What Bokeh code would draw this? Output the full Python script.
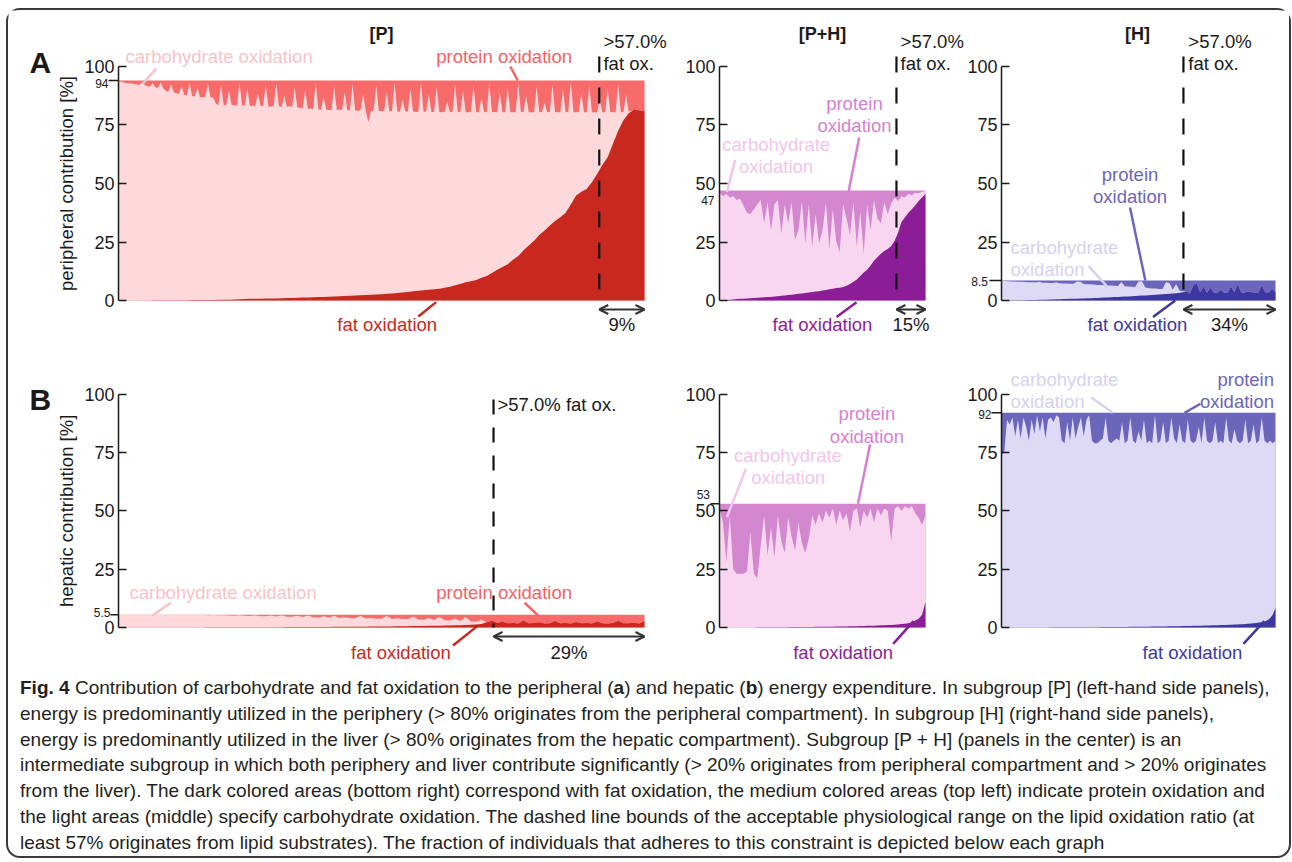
import numpy as np
from bokeh.plotting import figure
from bokeh.layouts import column, row
from bokeh.models import Range1d, FixedTicker, Label, Arrow, OpenHead, Div, ColumnDataSource
from bokeh.embed import file_html
from bokeh.resources import INLINE

FONT = "Liberation Sans"

# ---------------------------------------------------------------- data
# individuals sorted by fat oxidation; values are % contribution
y_ticks = [0, 25, 50, 75, 100]

total_pa, total_pha, total_ha = 94, 47, 8.5
total_pb, total_phb, total_hb = 5.5, 53, 92

# fraction of individuals (sorted) where fat oxidation exceeds 57 %
cut_pa, cut_pha, cut_ha, cut_pb = 0.914, 0.859, 0.664, 0.713
frac_pa, frac_pha, frac_ha, frac_pb = "9%", "15%", "34%", "29%"

pa_fat = [0.0, 0.0, 0.01, 0.02, 0.03, 0.04, 0.05, 0.06, 0.07, 0.08,
          0.1, 0.12, 0.14, 0.16, 0.18, 0.2, 0.22, 0.24, 0.26, 0.28,
          0.3, 0.35, 0.4, 0.5, 0.6, 0.7, 0.74, 0.78, 0.82, 0.86,
          0.9, 0.97, 1.04, 1.11, 1.18, 1.25, 1.32, 1.39, 1.46, 1.53,
          1.6, 1.7, 1.8, 1.9, 2.0, 2.1, 2.2, 2.35, 2.45, 2.6,
          2.7, 2.85, 3.0, 3.2, 3.4, 3.6, 4.0, 4.2, 4.4, 4.6,
          4.8, 5.0, 5.4, 5.9, 6.5, 7.1, 7.8, 8.2, 8.8, 9.7,
          10.5, 11.8, 13.1, 14.3, 15.5, 17.4, 19.0, 21.5, 23.5, 25.5,
          28.0, 29.9, 32.0, 34.0, 35.6, 37.5, 41.0, 44.9, 46.5, 47.7,
          50.5, 54.1, 58.0, 61.2, 67.0, 72.5, 77.0, 80.0, 81.5, 81.3, 81.0]
# protein read at a finer step (201 individuals)
pa_prot = [0.3, 0.5, 0.8, 1.0, 1.2, 1.3, 1.5, 1.7, 1.9, 0.6,
           2.0, 2.3, 2.6, 1.0, 2.9, 3.2, 0.8, 3.3, 4.5, 4.7,
           1.5, 5.0, 5.4, 5.8, 2.2, 6.2, 6.4, 0.9, 6.6, 6.8,
           3.0, 7.0, 7.1, 7.0, 1.2, 7.2, 7.2, 9.8, 10.6, 2.0,
           10.5, 10.7, 4.5, 10.4, 10.6, 10.8, 0.8, 10.6, 10.8, 3.5,
           10.9, 10.7, 11.0, 5.5, 10.8, 11.0, 2.0, 11.1, 11.2, 10.9,
           1.2, 11.0, 11.3, 6.5, 11.2, 11.0, 11.3, 3.0, 11.5, 11.6,
           12.0, 4.2, 12.2, 12.0, 12.3, 0.9, 12.4, 12.5, 7.0, 12.4,
           12.6, 12.5, 2.5, 12.6, 12.4, 12.7, 4.8, 12.8, 12.6, 1.5,
           12.8, 12.9, 12.7, 6.0, 12.8, 17.8, 13.0, 12.9, 2.2, 13.0,
           13.1, 12.9, 5.0, 13.2, 13.0, 1.0, 13.2, 13.3, 8.0, 13.1,
           13.3, 3.5, 13.2, 13.4, 13.3, 0.8, 13.4, 13.2, 6.0, 13.5,
           13.3, 2.8, 13.4, 13.5, 13.3, 9.0, 13.5, 13.4, 1.6, 13.6,
           13.4, 4.5, 13.5, 13.6, 13.3, 2.0, 13.5, 13.6, 7.5, 13.4,
           13.5, 0.9, 13.6, 13.4, 13.5, 5.0, 13.6, 13.5, 3.0, 13.4,
           13.6, 13.5, 1.2, 13.6, 13.4, 6.5, 13.5, 13.6, 13.5, 2.5,
           13.4, 13.6, 9.5, 13.5, 13.4, 1.8, 13.6, 13.5, 13.6, 4.0,
           13.5, 13.4, 0.7, 13.6, 13.5, 13.4, 5.5, 13.6, 13.5, 2.2,
           13.6, 13.5, 13.7, 8.0, 13.5, 13.6, 3.5, 13.4, 13.6, 13.5,
           1.5, 13.5, 13.4, 6.0, 13.2, 13.0, 12.8, 12.5, 12.6, 12.8,
           13.0]

pha_fat = [0.0, 0.1, 0.2, 0.3, 0.45, 0.6, 0.7, 0.8, 0.9, 1.0,
           1.1, 1.2, 1.3, 1.35, 1.45, 1.5, 1.7, 1.85, 2.0, 2.15,
           2.3, 2.5, 2.7, 2.85, 3.0, 3.2, 3.4, 3.6, 3.8, 4.0,
           4.3, 4.5, 4.8, 5.0, 5.3, 5.5, 5.8, 6.3, 7.0, 8.0,
           9.0, 10.5, 12.0, 13.1, 15.0, 17.0, 18.5, 20.0, 21.2, 22.0,
           23.3, 25.5, 29.0, 33.5, 35.5, 37.5, 39.0, 40.6, 42.5, 44.0, 45.5]
pha_prot = [1.0, 2.5, 1.5, 3.0, 2.5, 4.0, 3.5, 6.5, 9.5, 10.0,
            8.0, 6.0, 4.0, 14.0, 5.0, 17.0, 6.0, 4.0, 18.5, 6.0,
            14.0, 5.0, 21.0, 17.0, 4.5, 22.5, 6.0, 24.0, 10.0, 22.5,
            17.0, 5.0, 25.0, 8.0, 21.5, 26.4, 6.0, 12.0, 19.0, 5.0,
            24.0, 9.0, 27.0, 6.0, 17.0, 4.0, 12.0, 14.0, 5.0, 10.0,
            5.5, 3.0, 4.5, 2.5, 3.0, 1.5, 2.0, 1.0, 1.2, 0.5, 0.3]

ha_fat = [0.0, 0.02, 0.04, 0.06, 0.08, 0.1, 0.13, 0.16, 0.19, 0.22,
          0.25, 0.29, 0.33, 0.37, 0.41, 0.45, 0.5, 0.55, 0.6, 0.65,
          0.7, 0.75, 0.8, 0.85, 0.9, 0.95, 1.0, 1.06, 1.12, 1.18,
          1.25, 1.32, 1.39, 1.46, 1.53, 1.6, 1.68, 1.76, 1.84, 1.92,
          2.0, 2.09, 2.18, 2.27, 2.36, 2.45, 2.55, 2.65, 2.75, 2.85,
          3.0, 3.15, 3.3, 3.5, 3.9, 3.0, 6.5, 7.5, 3.5, 6.0,
          3.3, 5.5, 3.4, 3.3, 4.5, 3.4, 3.2, 6.0, 3.5, 7.0,
          3.4, 3.3, 4.0, 3.5, 3.4, 3.3, 6.5, 3.5, 3.4, 5.0, 3.6]
ha_prot = [0.1, 0.2, 0.3, 0.35, 0.4, 0.45, 0.5, 0.6, 0.7, 0.75,
           0.8, 0.5, 0.9, 0.95, 1.0, 1.05, 0.7, 1.1, 1.2, 1.2,
           1.3, 1.35, 0.4, 0.5, 1.5, 1.55, 1.6, 1.7, 1.9, 1.9,
           2.0, 2.1, 2.1, 2.2, 2.3, 0.6, 2.4, 2.5, 2.6, 2.7,
           0.4, 0.3, 2.9, 3.3, 3.4, 3.4, 3.6, 3.6, 0.7, 1.0,
           3.9, 1.5, 4.3, 4.5, 4.6, 5.5, 2.0, 1.0, 5.0, 2.5,
           5.2, 3.0, 5.1, 5.2, 4.0, 5.1, 5.3, 2.5, 5.0, 1.5,
           5.1, 5.2, 4.5, 5.0, 5.1, 5.2, 2.0, 5.0, 5.1, 3.5, 4.9]

pb_fat = [0.0, 0.0, 0.0, 0.01, 0.01, 0.01, 0.02, 0.02, 0.02, 0.03,
          0.03, 0.03, 0.04, 0.04, 0.05, 0.05, 0.05, 0.06, 0.06, 0.07,
          0.07, 0.08, 0.08, 0.09, 0.09, 0.1, 0.1, 0.11, 0.12, 0.13,
          0.14, 0.15, 0.16, 0.17, 0.18, 0.19, 0.2, 0.21, 0.22, 0.24,
          0.25, 0.27, 0.28, 0.3, 0.31, 0.33, 0.34, 0.36, 0.38, 0.39,
          0.4, 0.43, 0.46, 0.49, 0.52, 0.55, 0.59, 0.63, 0.67, 0.71,
          0.75, 0.8, 0.85, 0.9, 0.95, 1.0, 1.08, 1.17, 1.3, 1.5,
          2.2, 2.9, 2.0, 2.5, 1.8, 1.9, 1.7, 3.0, 1.8, 1.9,
          2.2, 1.7, 1.8, 2.8, 1.8, 1.9, 1.7, 2.4, 1.8, 1.9,
          1.7, 2.6, 1.8, 1.7, 1.9, 2.9, 1.8, 1.8, 2.0, 1.7, 2.8]
pb_prot = [0.0, 0.0, 0.0, 0.0, 0.0, 0.0, 0.0, 0.0, 0.02, 0.03,
           0.05, 0.05, 0.06, 0.08, 0.1, 0.1, 0.12, 0.3, 0.1, 0.2,
           0.3, 0.35, 0.5, 0.2, 0.45, 0.6, 0.3, 0.65, 0.7, 0.4,
           0.8, 0.3, 0.85, 0.9, 0.5, 1.0, 0.4, 1.1, 1.2, 0.7,
           1.3, 0.5, 1.4, 1.1, 1.4, 1.5, 0.6, 1.6, 1.3, 1.7,
           1.8, 0.6, 1.9, 1.5, 1.9, 2.0, 0.8, 2.1, 2.2, 1.4,
           2.3, 0.9, 2.4, 2.5, 1.6, 2.7, 1.0, 2.9, 3.0, 2.2,
           3.2, 2.6, 3.5, 3.0, 3.7, 3.6, 3.8, 2.5, 3.7, 3.6,
           3.3, 3.8, 3.7, 2.7, 3.7, 3.6, 3.8, 3.1, 3.7, 3.6,
           3.8, 2.9, 3.7, 3.8, 3.6, 2.6, 3.7, 3.7, 3.5, 3.8, 2.7]

phb_fat = [0.0, 0.0, 0.01, 0.01, 0.02, 0.02, 0.03, 0.03, 0.04, 0.04,
           0.05, 0.06, 0.07, 0.08, 0.09, 0.1, 0.11, 0.12, 0.13, 0.14,
           0.15, 0.16, 0.17, 0.18, 0.2, 0.21, 0.23, 0.25, 0.27, 0.28,
           0.3, 0.32, 0.34, 0.36, 0.38, 0.4, 0.43, 0.46, 0.49, 0.52,
           0.55, 0.6, 0.65, 0.7, 0.75, 0.8, 0.86, 0.92, 0.98, 1.04,
           1.1, 1.2, 1.3, 1.45, 1.6, 1.8, 2.3, 3.0, 3.7, 5.5, 11.0]
phb_prot = [2, 8, 25, 5, 28, 30, 30, 30, 29, 12,
            30, 32, 18, 5, 22, 10, 23, 5, 16, 21,
            6, 14, 20, 8, 17, 21, 15, 5, 9, 4,
            8, 3, 6, 2, 9, 3, 7, 4, 12, 3,
            2, 10, 3, 6, 2, 8, 2, 5, 2, 3,
            16, 2, 1, 3, 1, 2, 1, 4, 6, 9, 5]

hb_fat = [0.0, 0.0, 0.0, 0.0, 0.01, 0.01, 0.01, 0.02, 0.02, 0.02,
          0.03, 0.03, 0.03, 0.04, 0.04, 0.05, 0.05, 0.05, 0.06, 0.06,
          0.07, 0.07, 0.08, 0.08, 0.09, 0.09, 0.1, 0.1, 0.11, 0.11,
          0.12, 0.13, 0.13, 0.14, 0.15, 0.15, 0.16, 0.17, 0.18, 0.19,
          0.2, 0.21, 0.22, 0.23, 0.24, 0.25, 0.26, 0.27, 0.28, 0.29,
          0.3, 0.32, 0.33, 0.35, 0.36, 0.38, 0.39, 0.41, 0.43, 0.45,
          0.47, 0.49, 0.51, 0.53, 0.55, 0.57, 0.6, 0.62, 0.65, 0.68,
          0.7, 0.73, 0.76, 0.79, 0.82, 0.85, 0.88, 0.91, 0.95, 0.99,
          1.03, 1.07, 1.11, 1.15, 1.2, 1.25, 1.3, 1.36, 1.42, 1.5,
          1.58, 1.68, 1.8, 1.95, 2.1, 2.3, 2.6, 3.1, 4.0, 5.5, 8.5]
hb_prot = [18, 17, 3, 5, 2, 10, 3, 11, 2, 6,
           12, 3, 9, 1, 8, 2, 11, 3, 2, 4,
           1, 2, 12, 13, 4, 12, 2, 11, 6, 2,
           10, 3, 1, 12, 13, 13, 12, 11, 2, 12,
           13, 12, 11, 12, 4, 13, 12, 2, 12, 13,
           8, 12, 3, 13, 12, 13, 1, 13, 12, 4,
           13, 12, 2, 11, 13, 5, 12, 13, 3, 12,
           13, 12, 6, 13, 2, 12, 13, 12, 4, 13,
           12, 13, 2, 12, 13, 7, 12, 13, 12, 3,
           13, 12, 5, 13, 12, 2, 12, 13, 12, 13, 12]

# ---------------------------------------------------------------- style
COL_P = dict(fat="#C8281E", carb="#FDD9DC", prot="#F76B6B",
             carb_t="#F8C3C8", prot_t="#F36464", fat_t="#C8281E")
COL_PH = dict(fat="#8B1E96", carb="#F9D6F0", prot="#D287CF",
              carb_t="#F3C5EB", prot_t="#D67FD3", fat_t="#8B1E96")
COL_H = dict(fat="#3D38A0", carb="#DEDAF6", prot="#6B66BA",
             carb_t="#D6D1F1", prot_t="#6B66BA", fat_t="#3D38A0")
INK = "#1a1a1a"
FS = "18.5px"

ROW_A_H, ROW_B_H, CAP_H = 335, 320, 191
YR_A = (-19.23, 123.93)
YR_B = (-16.29, 120.87)
# figure width, px from figure left edge to the y axis, px per unit of x
P_W, P_AX, P_KX = 662, 110, 526
PH_W, PH_AX, PH_KX = 295, 49, 206
H_W, H_AX, H_KX = 324, 36, 274


def panel(width, ax_px, kx, height, yr, fat, prot, total, col):
    p = figure(width=width, height=height,
               x_range=Range1d(-ax_px / kx, (width - ax_px) / kx),
               y_range=Range1d(*yr), x_axis_location=None,
               toolbar_location=None, output_backend="svg",
               min_border_left=0, min_border_right=0,
               min_border_top=0, min_border_bottom=0)
    p.outline_line_color = None
    p.grid.visible = False
    ax = p.yaxis[0]
    ax.fixed_location = 0
    ax.bounds = (0, 100)
    ax.ticker = FixedTicker(ticks=y_ticks)
    ax.axis_line_color = INK
    ax.axis_line_width = 1.5
    ax.major_tick_line_color = INK
    ax.major_tick_line_width = 1.5
    ax.major_tick_in = 8
    ax.major_tick_out = 0
    ax.minor_tick_line_color = None
    ax.major_label_standoff = 4
    ax.major_label_text_font = FONT
    ax.major_label_text_font_size = "18px"
    ax.major_label_text_color = INK
    nf, npr = len(fat), len(prot)
    fat_src = ColumnDataSource(dict(x=np.arange(nf) / (nf - 1), zero=np.zeros(nf),
                                    fat=np.array(fat, float)))
    prot_src = ColumnDataSource(dict(x=np.arange(npr) / (npr - 1), zero=np.zeros(npr),
                                     total=np.full(npr, float(total)),
                                     upper=total - np.array(prot, float)))
    p.varea(x="x", y1="zero", y2="total", source=prot_src, fill_color=col["prot"])
    p.varea(x="x", y1="zero", y2="upper", source=prot_src, fill_color=col["carb"])
    p.varea(x="x", y1="zero", y2="fat", source=fat_src, fill_color=col["fat"])
    return p


def lab(p, x, y, text, color=INK, size=FS, align="left", bold=False, xo=0, angle=0):
    p.add_layout(Label(x=x, y=y, text=text, text_color=color, text_font=FONT,
                       text_font_size=size, text_align=align,
                       text_baseline="middle", x_offset=xo, angle=angle,
                       text_font_style="bold" if bold else "normal"))


def leader(p, x0, y0, x1, y1, color):
    p.segment(x0=[x0], y0=[y0], x1=[x1], y1=[y1], line_color=color, line_width=2.5)


def cutline(p, x, top, dash):
    p.segment(x0=[x], y0=[top], x1=[x], y1=[0], line_color="#111111",
              line_width=2.2, line_dash=dash)


def span_arrow(p, x0, x1, y, text, ty):
    p.add_layout(Arrow(start=OpenHead(size=9, line_width=2, line_color="#333333"),
                       end=OpenHead(size=9, line_width=2, line_color="#333333"),
                       x_start=x0, y_start=y, x_end=x1, y_end=y,
                       line_width=2, line_color="#333333"))
    lab(p, (x0 + x1) / 2, ty, text, align="center")


def small_tick(p, kx, value, label_y, px_label, px_tick=None):
    lab(p, 0, label_y, value, size="12px", align="right", xo=-px_label)
    if px_tick:
        p.segment(x0=[-px_tick / kx], y0=[float(value)], x1=[0], y1=[float(value)],
                  line_color=INK, line_width=1.5)


# ---------------------------------------------------------------- row A
pa = panel(P_W, P_AX, P_KX, ROW_A_H, YR_A, pa_fat, pa_prot, total_pa, COL_P)
lab(pa, -0.0989, 50, "peripheral contribution [%]", align="center", angle=np.pi / 2)
cutline(pa, cut_pa, 104.3, "16 15")
lab(pa, 0.5, 114, "[P]", align="center", bold=True, size="18px")
lab(pa, 0.922, 110.7, ">57.0%")
lab(pa, 0.922, 101.3, "fat ox.")
lab(pa, 0.0133, 104.3, "carbohydrate oxidation", COL_P["carb_t"])
leader(pa, 0.072, 99.1, 0.046, 92.7, COL_P["carb_t"])
lab(pa, 0.604, 104.3, "protein oxidation", COL_P["prot_t"])
leader(pa, 0.745, 100, 0.759, 94, COL_P["prot_t"])
lab(pa, 0.416, -10.3, "fat oxidation", COL_P["fat_t"])
leader(pa, 0.570, -6.8, 0.604, -0.7, COL_P["fat_t"])
span_arrow(pa, cut_pa, 1.0, -3.85, frac_pa, -10.3)
small_tick(pa, P_KX, "94", 92.7, 10, 10)
lab(pa, -0.169, 101.7, "A", bold=True, size="30px")

pha = panel(PH_W, PH_AX, PH_KX, ROW_A_H, YR_A, pha_fat, pha_prot, total_pha, COL_PH)
cutline(pha, cut_pha, 104.3, "16 15")
lab(pha, 0.5, 114, "[P+H]", align="center", bold=True, size="18px")
lab(pha, 0.879, 110.7, ">57.0%")
lab(pha, 0.879, 101.3, "fat ox.")
lab(pha, 0.655, 84.2, "protein", COL_PH["prot_t"], align="center")
lab(pha, 0.655, 74.8, "oxidation", COL_PH["prot_t"], align="center")
leader(pha, 0.678, 69.7, 0.626, 46.3, COL_PH["prot_t"])
lab(pha, 0.013, 66.5, "carbohydrate", COL_PH["carb_t"])
lab(pha, 0.095, 57.3, "oxidation", COL_PH["carb_t"])
leader(pha, 0.0757, 60.1, 0.0364, 46.3, COL_PH["carb_t"])
lab(pha, 0.5, -10.3, "fat oxidation", COL_PH["fat_t"], align="center")
leader(pha, 0.568, -7.1, 0.665, -0.7, COL_PH["fat_t"])
span_arrow(pha, cut_pha, 1.0, -3.85, frac_pha, -10.3)
small_tick(pha, PH_KX, "47", 42.7, 5)

ha = panel(H_W, H_AX, H_KX, ROW_A_H, YR_A, ha_fat, ha_prot, total_ha, COL_H)
cutline(ha, cut_ha, 104.3, "16 15")
lab(ha, 0.496, 114, "[H]", align="center", bold=True, size="18px")
lab(ha, 0.682, 110.7, ">57.0%")
lab(ha, 0.682, 101.3, "fat ox.")
lab(ha, 0.469, 53.8, "protein", COL_H["prot_t"], align="center")
lab(ha, 0.469, 44.4, "oxidation", COL_H["prot_t"], align="center")
leader(ha, 0.469, 39.7, 0.525, 8.5, COL_H["prot_t"])
lab(ha, 0.0325, 22.5, "carbohydrate", COL_H["carb_t"])
lab(ha, 0.0325, 13.4, "oxidation", COL_H["carb_t"])
leader(ha, 0.318, 14.7, 0.385, 6.0, COL_H["carb_t"])
lab(ha, 0.496, -10.3, "fat oxidation", COL_H["fat_t"], align="center")
leader(ha, 0.553, -7.1, 0.634, 0.0, COL_H["fat_t"])
span_arrow(ha, cut_ha, 1.0, -3.85, frac_ha, -10.3)
small_tick(ha, H_KX, "8.5", 8.2, 13.5, 12)

# ---------------------------------------------------------------- row B
pb = panel(P_W, P_AX, P_KX, ROW_B_H, YR_B, pb_fat, pb_prot, total_pb, COL_P)
lab(pb, -0.0989, 50, "hepatic contribution [%]", align="center", angle=np.pi / 2)
cutline(pb, cut_pb, 97.7, "15 13")
lab(pb, 0.7205, 95.6, ">57.0% fat ox.")
lab(pb, 0.0209, 15.1, "carbohydrate oxidation", COL_P["carb_t"])
leader(pb, 0.0998, 10.6, 0.0637, 5.1, COL_P["carb_t"])
lab(pb, 0.604, 15.1, "protein oxidation", COL_P["prot_t"])
leader(pb, 0.772, 10.6, 0.798, 5.1, COL_P["prot_t"])
lab(pb, 0.442, -10.6, "fat oxidation", COL_P["fat_t"])
leader(pb, 0.636, -7.7, 0.684, 0.9, COL_P["fat_t"])
span_arrow(pb, cut_pb, 1.0, -3.86, frac_pb, -10.6)
small_tick(pb, P_KX, "5.5", 6.6, 8, 8)
lab(pb, -0.169, 97.9, "B", bold=True, size="30px")

phb = panel(PH_W, PH_AX, PH_KX, ROW_B_H, YR_B, phb_fat, phb_prot, total_phb, COL_PH)
lab(phb, 0.7155, 91.6, "protein", COL_PH["prot_t"], align="center")
lab(phb, 0.7155, 82.0, "oxidation", COL_PH["prot_t"], align="center")
leader(phb, 0.731, 78.4, 0.672, 53, COL_PH["prot_t"])
lab(phb, 0.070, 73.7, "carbohydrate", COL_PH["carb_t"])
lab(phb, 0.154, 64.2, "oxidation", COL_PH["carb_t"])
leader(phb, 0.128, 68, 0.036, 47.3, COL_PH["carb_t"])
lab(phb, 0.6, -10.6, "fat oxidation", COL_PH["fat_t"], align="center")
leader(phb, 0.843, -7, 0.942, 2.7, COL_PH["fat_t"])
small_tick(phb, PH_KX, "53", 57.0, 9.5, 9)

hb = panel(H_W, H_AX, H_KX, ROW_B_H, YR_B, hb_fat, hb_prot, total_hb, COL_H)
lab(hb, 0.0325, 106.3, "carbohydrate", COL_H["carb_t"])
lab(hb, 0.0325, 97.0, "oxidation", COL_H["carb_t"])
leader(hb, 0.327, 98.7, 0.406, 92, COL_H["carb_t"])
lab(hb, 0.9945, 106.3, "protein", COL_H["prot_t"], align="right")
lab(hb, 0.9945, 97.0, "oxidation", COL_H["prot_t"], align="right")
leader(hb, 0.726, 95.9, 0.668, 92, COL_H["prot_t"])
lab(hb, 0.697, -10.6, "fat oxidation", COL_H["fat_t"], align="center")
leader(hb, 0.883, -7, 0.959, 2.7, COL_H["fat_t"])
small_tick(hb, H_KX, "92", 91.3, 10, 10)

# ---------------------------------------------------------------- caption
caption_lines = [
    "<b>Fig. 4</b> Contribution of carbohydrate and fat oxidation to the peripheral (<b>a</b>) and hepatic (<b>b</b>) energy expenditure. In subgroup [P] (left-hand side panels),",
    "energy is predominantly utilized in the periphery (&gt; 80% originates from the peripheral compartment). In subgroup [H] (right-hand side panels),",
    "energy is predominantly utilized in the liver (&gt; 80% originates from the hepatic compartment). Subgroup [P + H] (panels in the center) is an",
    "intermediate subgroup in which both periphery and liver contribute significantly (&gt; 20% originates from peripheral compartment and &gt; 20% originates",
    "from the liver). The dark colored areas (bottom right) correspond with fat oxidation, the medium colored areas (top left) indicate protein oxidation and",
    "the light areas (middle) specify carbohydrate oxidation. The dashed line bounds of the acceptable physiological range on the lipid oxidation ratio (at",
    "least 57% originates from lipid substrates). The fraction of individuals that adheres to this constraint is depicted below each graph",
]
cap_html = ("<div style=\"font-family:'Liberation Sans',sans-serif;font-size:19px;"
            "line-height:25.8px;color:#231f20;white-space:nowrap;padding:10px 0 0 12px;\">"
            + "<br>".join(caption_lines) + "</div>")
cap = Div(text=cap_html, width=P_W + PH_W + H_W, height=CAP_H, margin=(0, 0, 0, 0))

layout = column(row(pa, pha, ha), row(pb, phb, hb), cap,
                styles={"margin": "10px 0 0 8px", "outline": "2px solid #3a3a3a",
                        "border-radius": "12px"})

open("out.html", "w").write(file_html(layout, INLINE))
